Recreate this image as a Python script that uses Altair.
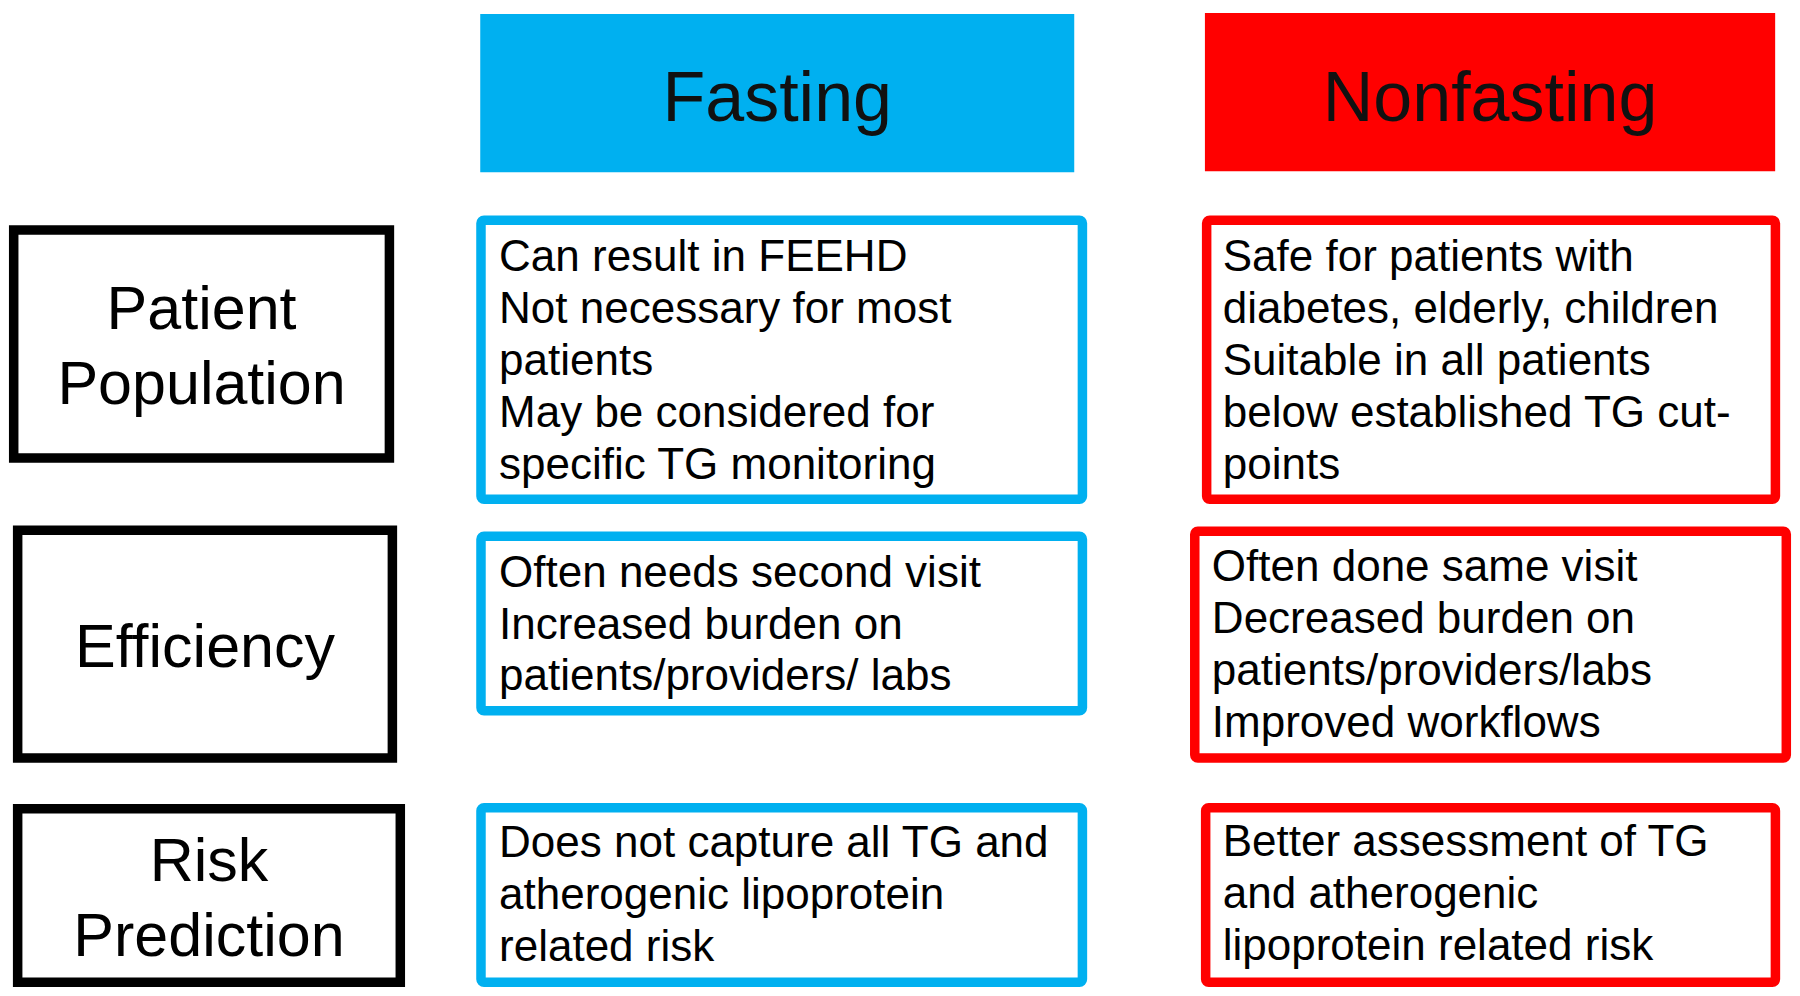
import altair as alt
import pandas as pd

# ---------------- content ----------------
headers = ["Fasting", "Nonfasting"]
header_colors = ["#00B0F0", "#FF0000"]

row_labels = [["Patient", "Population"], ["Efficiency"], ["Risk", "Prediction"]]

fasting_lines = [
    ["Can result in FEEHD", "Not necessary for most", "patients",
     "May be considered for", "specific TG monitoring"],
    ["Often needs second visit", "Increased burden on", "patients/providers/ labs"],
    ["Does not capture all TG and", "atherogenic lipoprotein", "related risk"],
]
nonfasting_lines = [
    ["Safe for patients with", "diabetes, elderly, children", "Suitable in all patients",
     "below established TG cut-", "points"],
    ["Often done same visit", "Decreased burden on", "patients/providers/labs",
     "Improved workflows"],
    ["Better assessment of TG", "and atherogenic", "lipoprotein related risk"],
]

# ---------------- layout (reference pixel frame 1800 x 996) ----------------
header_x = [(476, 1076), (1208, 1784)]
header_y = [(6, 167), (5, 166)]
header_baseline = 115

label_x = [(0, 389), (4, 392), (4, 400)]
label_y = [(221, 462), (526, 767), (809, 995)]
label_first_baseline = [326, 670, 887]
label_step = 76

fast_x = [(472, 1089), (472, 1089), (472, 1089)]
fast_y = [(211, 504), (532, 719), (808, 995)]
fast_text_x = [495, 495, 495]
fast_first_baseline = [267, 588, 863]

nonf_x = [(1205, 1789), (1193, 1800), (1204, 1789)]
nonf_y = [(211, 504), (527, 767), (808, 995)]
nonf_text_x = [1226, 1215, 1226]
nonf_first_baseline = [267, 582, 862]

body_step = 52.8
SW = 9.5
FONT = "Liberation Sans"

# ---------------- tables ----------------
hdr = pd.DataFrame({
    "x": [a for a, b in header_x], "x2": [b for a, b in header_x],
    "y": [a for a, b in header_y], "y2": [b for a, b in header_y],
    "fill": header_colors, "label": headers,
    "cx": [(a + b) / 2 for a, b in header_x], "ty": [header_baseline] * 2,
})

lab_rect = pd.DataFrame({
    "x": [a + SW / 2 for a, b in label_x], "x2": [b - SW / 2 for a, b in label_x],
    "y": [a + SW / 2 for a, b in label_y], "y2": [b - SW / 2 for a, b in label_y],
})
lab_text_rows = []
for i, lines in enumerate(row_labels):
    cx = (label_x[i][0] + label_x[i][1]) / 2
    for j, t in enumerate(lines):
        lab_text_rows.append({"text": t, "x": cx, "y": label_first_baseline[i] + j * label_step})
lab_text = pd.DataFrame(lab_text_rows)

box_rows, body_rows = [], []
for col, (xs, ys, tx, fb, lines_all, color) in enumerate([
    (fast_x, fast_y, fast_text_x, fast_first_baseline, fasting_lines, header_colors[0]),
    (nonf_x, nonf_y, nonf_text_x, nonf_first_baseline, nonfasting_lines, header_colors[1]),
]):
    for i in range(3):
        box_rows.append({"x": xs[i][0] + SW / 2, "x2": xs[i][1] - SW / 2,
                         "y": ys[i][0] + SW / 2, "y2": ys[i][1] - SW / 2, "stroke": color})
        for j, t in enumerate(lines_all[i]):
            body_rows.append({"text": t, "x": tx[i], "y": fb[i] + j * body_step})
boxes = pd.DataFrame(box_rows)
body = pd.DataFrame(body_rows)

xs_ = alt.Scale(domain=[0, 1800], nice=False, zero=False)
ys_ = alt.Scale(domain=[0, 996], nice=False, zero=False, reverse=True)
X = lambda f: alt.X(f"{f}:Q", scale=xs_, axis=None)
Y = lambda f: alt.Y(f"{f}:Q", scale=ys_, axis=None)

header_rects = alt.Chart(hdr).mark_rect(strokeWidth=0).encode(
    x=X("x"), x2="x2", y=Y("y"), y2="y2", fill=alt.Fill("fill:N", scale=None))
header_text = alt.Chart(hdr).mark_text(
    font=FONT, fontSize=70, align="center", baseline="alphabetic", color="#111111"
).encode(x=X("cx"), y=Y("ty"), text="label:N")

label_rects = alt.Chart(lab_rect).mark_rect(
    fill="white", stroke="#000000", strokeWidth=SW
).encode(x=X("x"), x2="x2", y=Y("y"), y2="y2")
label_text = alt.Chart(lab_text).mark_text(
    font=FONT, fontSize=61, align="center", baseline="alphabetic", color="#000000"
).encode(x=X("x"), y=Y("y"), text="text:N")

content_rects = alt.Chart(boxes).mark_rect(
    fill="white", strokeWidth=SW, cornerRadius=3
).encode(x=X("x"), x2="x2", y=Y("y"), y2="y2", stroke=alt.Stroke("stroke:N", scale=None))
content_text = alt.Chart(body).mark_text(
    font=FONT, fontSize=44, align="left", baseline="alphabetic", color="#000000"
).encode(x=X("x"), y=Y("y"), text="text:N")

chart = alt.layer(
    header_rects, header_text, label_rects, label_text, content_rects, content_text
).properties(
    width=1784, height=980, padding=0,
    autosize=alt.AutoSizeParams(type="fit", contains="padding"),
    background="white",
).configure_view(strokeWidth=0)

chart.save("out.html", embed_options={"renderer": "svg", "actions": False})
